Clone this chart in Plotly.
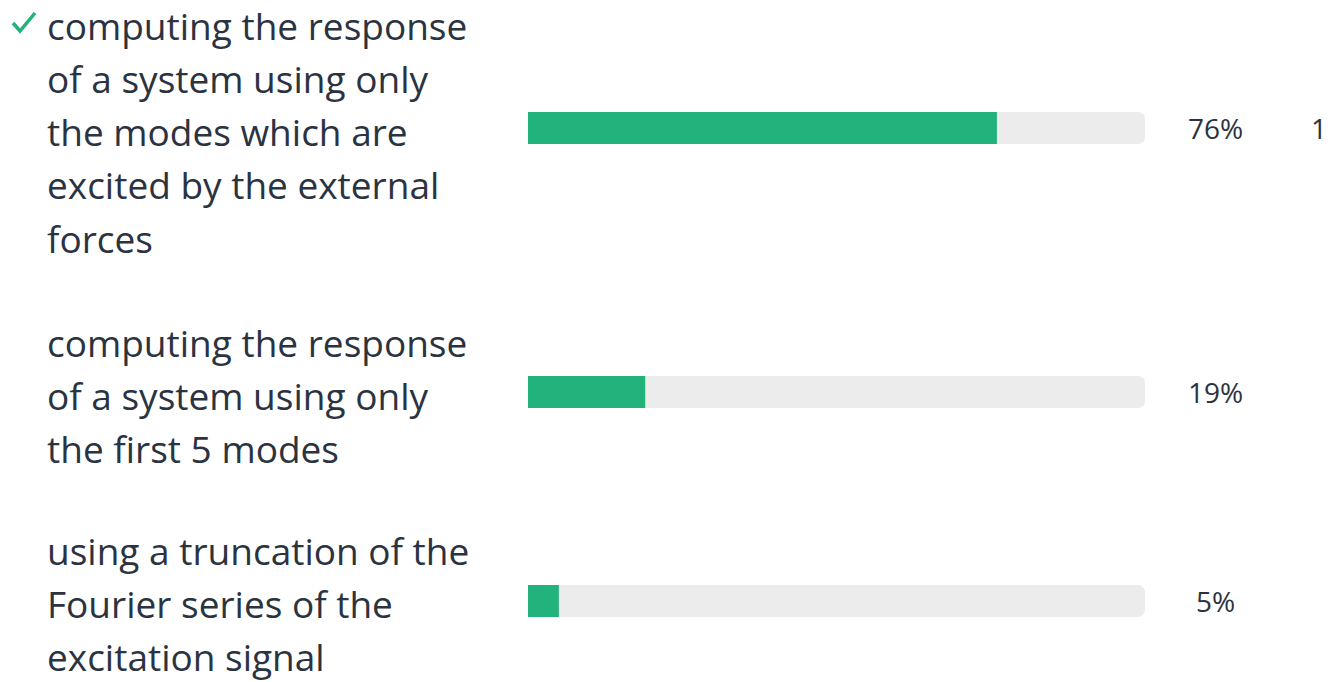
import plotly.graph_objects as go

# ---- data ----
answer_lines = [
    ["computing the response", "of a system using only", "the modes which are",
     "excited by the external", "forces"],
    ["computing the response", "of a system using only", "the first 5 modes"],
    ["using a truncation of the", "Fourier series of the", "excitation signal"],
]
percent_values = [76, 19, 5]
percent_labels = ["76%", "19%", "5%"]
correct_flags = [True, False, False]

# ---- layout constants (pixels, as seen on screen) ----
W, H = 1341, 682
OFF = 8  # page body margin
bar_centers = [128 - OFF, 392 - OFF, 601 - OFF]
label_first_line = [25 - OFF, 342 - OFF, 550 - OFF]
line_step = 53.3
track_x0, track_x1 = 528 - OFF, 1145 - OFF
GREEN = "#22b27c"
TRACK = "#ececec"
TEXT = "#2b3341"
FONT = "Open Sans"

fig = go.Figure()
fig.add_trace(go.Bar(
    x=[100] * len(percent_values), y=bar_centers, orientation="h",
    marker=dict(color=TRACK, line=dict(width=0), cornerradius=7), width=32,
    hoverinfo="skip", showlegend=False,
))
fig.add_trace(go.Bar(
    x=percent_values, y=bar_centers, orientation="h",
    marker=dict(color=GREEN, line=dict(width=0), cornerradius=7), width=32,
    showlegend=False,
))

annotations = []
for lines, y0 in zip(answer_lines, label_first_line):
    for i, ln in enumerate(lines):
        annotations.append(dict(
            text=ln, xref="paper", yref="y", x=(45 - OFF) / W, y=y0 + i * line_step,
            xanchor="left", yanchor="middle", showarrow=False,
            font=dict(family=FONT, size=37, color=TEXT),
        ))
for lab, yc in zip(percent_labels, bar_centers):
    annotations.append(dict(
        text=lab, xref="paper", yref="y", x=(1215 - OFF) / W, y=yc,
        xanchor="center", yanchor="middle", showarrow=False,
        font=dict(family=FONT, size=28, color=TEXT),
    ))
annotations.append(dict(
    text="1", xref="paper", yref="y", x=(1309 - OFF) / W, y=bar_centers[0],
    xanchor="left", yanchor="middle", showarrow=False,
    font=dict(family=FONT, size=28, color=TEXT),
))

shapes = []
for flag, y0 in zip(correct_flags, label_first_line):
    if flag:
        x0 = 13 - OFF
        shapes.append(dict(
            type="path", xref="paper", yref="y",
            path=f"M {x0/W} {y0-2} L {(x0+7)/W} {y0+6} L {(x0+22)/W} {y0-12}",
            line=dict(color=GREEN, width=3.5), layer="above",
        ))

fig.update_layout(
    width=W, height=H, margin=dict(l=0, r=0, t=0, b=0),
    paper_bgcolor="white", plot_bgcolor="white",
    barmode="overlay", barcornerradius=7,
    xaxis=dict(domain=[track_x0 / W, track_x1 / W], range=[0, 100],
               visible=False, fixedrange=True),
    yaxis=dict(range=[H, 0], visible=False, fixedrange=True),
    annotations=annotations, shapes=shapes,
)

fig.write_html("out.html")
